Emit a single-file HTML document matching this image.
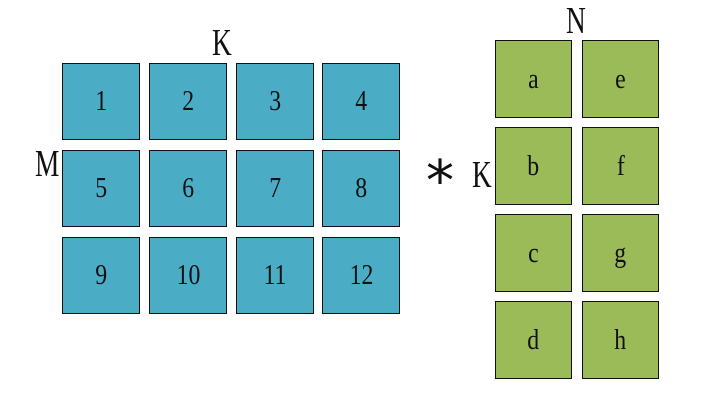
<!DOCTYPE html>
<html><head><meta charset="utf-8"><style>
body{margin:0;width:715px;height:401px;background:#fff;position:relative;overflow:hidden;font-family:"Liberation Serif","Noto Serif CJK SC",serif}
.c{position:absolute;box-sizing:border-box;border:1.3px solid #111;display:flex;align-items:center;justify-content:center;font-size:29px;color:#111}
.c span{display:inline-block;transform:scaleX(0.82)}
.b{background:#4BACC6}.g{background:#9BBB59}
.l{position:absolute;font-size:38px;color:#111;line-height:1;transform:scaleX(0.72);transform-origin:left top}
</style></head><body>
<div class="l" style="left:212px;top:24px">K</div>
<div class="l" style="left:35px;top:145px">M</div>
<div class="l" style="left:426px;top:154px;font-size:56px;font-family:'DejaVu Sans',sans-serif;transform:none">*</div>
<div class="l" style="left:472px;top:156px">K</div>
<div class="l" style="left:566px;top:2px">N</div>
<div id="m"></div>
<script>
const A=["1","2","3","4","5","6","7","8","9","10","11","12"];
const B=["a","e","b","f","c","g","d","h"];
const ax=[62,149,236,322],ay=[63,150,237];
const bx=[495,582],by=[40,127,214,301];
const m=document.getElementById('m');
A.forEach((t,i)=>{const d=document.createElement('div');d.className='c b';
d.style.cssText=`left:${ax[i%4]}px;top:${ay[Math.floor(i/4)]}px;width:78px;height:77px`;
d.innerHTML='<span>'+t+'</span>';


m.appendChild(d);});
B.forEach((t,i)=>{const d=document.createElement('div');d.className='c g';
d.style.cssText=`left:${bx[i%2]}px;top:${by[Math.floor(i/2)]}px;width:77px;height:78px`;
d.innerHTML='<span>'+t+'</span>';


m.appendChild(d);});
</script>
</body></html>
